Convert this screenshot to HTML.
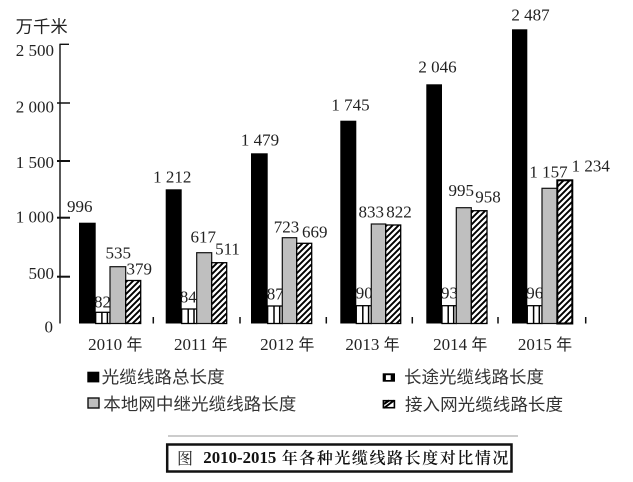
<!DOCTYPE html>
<html>
<head>
<meta charset="utf-8">
<style>
  html, body { margin: 0; padding: 0; background: #fff; }
  svg { display: block; }
  .num { font-family: "Liberation Serif", "Noto Serif CJK SC", serif; font-size: 17px; fill: #222; }
  .cjk { font-family: "Liberation Sans", "Noto Sans CJK SC", sans-serif; font-size: 17px; fill: #333; }
</style>
</head>
<body>
<svg width="633" height="482" viewBox="0 0 633 482" xmlns="http://www.w3.org/2000/svg">
  <defs>
    <pattern id="hatch" patternUnits="userSpaceOnUse" width="6" height="6">
      <rect x="0" y="0" width="6" height="6" fill="#fff"/>
      <path d="M-1,1 l2,-2 M0,6 l6,-6 M5,7 l2,-2" stroke="#000" stroke-width="1.9"/>
    </pattern>
  </defs>

  <!-- Axis title -->
  <text class="cjk" x="15.7" y="32.5" textLength="52" lengthAdjust="spacingAndGlyphs" style="fill:#222">万千米</text>

  <!-- Y axis -->
  <line x1="60" y1="44" x2="60" y2="323.5" stroke="#111" stroke-width="1.4"/>
  <line x1="59.5" y1="44.3" x2="69" y2="44.3" stroke="#111" stroke-width="1.4"/>
  <line x1="57" y1="103" x2="70" y2="103" stroke="#111" stroke-width="1.5"/>
  <line x1="57" y1="161" x2="70" y2="161" stroke="#111" stroke-width="2"/>
  <line x1="57" y1="217.7" x2="70" y2="217.7" stroke="#111" stroke-width="2"/>
  <line x1="57" y1="276.7" x2="70" y2="276.7" stroke="#111" stroke-width="2"/>

  <text class="num" x="54" y="56" text-anchor="end">2 500</text>
  <text class="num" x="54" y="112.5" text-anchor="end">2 000</text>
  <text class="num" x="54" y="168" text-anchor="end">1 500</text>
  <text class="num" x="54" y="222.5" text-anchor="end">1 000</text>
  <text class="num" x="54" y="279" text-anchor="end">500</text>
  <text class="num" x="53" y="332.5" text-anchor="end">0</text>

  <!-- baseline separator ticks -->
  <g stroke="#111" stroke-width="1.5">
    <line x1="153.3" y1="317" x2="153.3" y2="323.5"/>
    <line x1="240" y1="317" x2="240" y2="323.5"/>
    <line x1="326.3" y1="317" x2="326.3" y2="323.5"/>
    <line x1="412.3" y1="317" x2="412.3" y2="323.5"/>
    <line x1="498" y1="317" x2="498" y2="323.5"/>
    <line x1="585.7" y1="317" x2="585.7" y2="323.5"/>
  </g>

  <!-- small value labels drawn before bars (partially hidden) -->
  <text class="num" x="102.5" y="307.7" text-anchor="middle">82</text>
  <text class="num" x="188.3" y="302.7" text-anchor="middle">84</text>
  <text class="num" x="275.2" y="299.3" text-anchor="middle">87</text>
  <text class="num" x="364.3" y="298.7" text-anchor="middle">90</text>
  <text class="num" x="449.5" y="298.7" text-anchor="middle">93</text>
  <text class="num" x="534.7" y="298.7" text-anchor="middle">96</text>

  <!-- Bars: 2010 -->
  <rect x="79" y="222.7" width="16.7" height="100.8" fill="#000"/>
  <rect x="95.7" y="312.3" width="14.3" height="11.2" fill="#fff" stroke="#000" stroke-width="1.3"/>
  <line x1="101.9" y1="312.3" x2="101.9" y2="323.5" stroke="#000" stroke-width="1.5"/>
  <line x1="107.4" y1="312.3" x2="107.4" y2="323.5" stroke="#000" stroke-width="1.5"/>
  <rect x="110" y="266.7" width="15.7" height="56.8" fill="#bfbfbf" stroke="#111" stroke-width="1.2"/>
  <rect x="125.7" y="280.5" width="15" height="43" fill="url(#hatch)" stroke="#000" stroke-width="1.3"/>

  <!-- 2011 -->
  <rect x="165.7" y="189.3" width="16" height="134.2" fill="#000"/>
  <rect x="181.7" y="309" width="15" height="14.5" fill="#fff" stroke="#000" stroke-width="1.3"/>
  <line x1="188.2" y1="309" x2="188.2" y2="323.5" stroke="#000" stroke-width="1.5"/>
  <line x1="194" y1="309" x2="194" y2="323.5" stroke="#000" stroke-width="1.5"/>
  <rect x="196.7" y="252.7" width="15" height="70.8" fill="#bfbfbf" stroke="#111" stroke-width="1.2"/>
  <rect x="211.7" y="262.7" width="15" height="60.8" fill="url(#hatch)" stroke="#000" stroke-width="1.3"/>

  <!-- 2012 -->
  <rect x="251" y="153.3" width="16.7" height="170.2" fill="#000"/>
  <rect x="267.7" y="306" width="14.6" height="17.5" fill="#fff" stroke="#000" stroke-width="1.3"/>
  <line x1="274" y1="306" x2="274" y2="323.5" stroke="#000" stroke-width="1.5"/>
  <line x1="279.7" y1="306" x2="279.7" y2="323.5" stroke="#000" stroke-width="1.5"/>
  <rect x="282.3" y="237.7" width="14.4" height="85.8" fill="#bfbfbf" stroke="#111" stroke-width="1.2"/>
  <rect x="296.7" y="243.3" width="15" height="80.2" fill="url(#hatch)" stroke="#000" stroke-width="1.3"/>

  <!-- 2013 -->
  <rect x="340.3" y="120.7" width="16" height="202.8" fill="#000"/>
  <rect x="356.3" y="305.7" width="15" height="17.8" fill="#fff" stroke="#000" stroke-width="1.3"/>
  <line x1="362.8" y1="305.7" x2="362.8" y2="323.5" stroke="#000" stroke-width="1.5"/>
  <line x1="368.6" y1="305.7" x2="368.6" y2="323.5" stroke="#000" stroke-width="1.5"/>
  <rect x="371.3" y="224" width="14.4" height="99.5" fill="#bfbfbf" stroke="#111" stroke-width="1.2"/>
  <rect x="385.7" y="225" width="15" height="98.5" fill="url(#hatch)" stroke="#000" stroke-width="1.3"/>

  <!-- 2014 -->
  <rect x="426.3" y="84.3" width="15.7" height="239.2" fill="#000"/>
  <rect x="442" y="305.7" width="14.3" height="17.8" fill="#fff" stroke="#000" stroke-width="1.3"/>
  <line x1="448.2" y1="305.7" x2="448.2" y2="323.5" stroke="#000" stroke-width="1.5"/>
  <line x1="453.7" y1="305.7" x2="453.7" y2="323.5" stroke="#000" stroke-width="1.5"/>
  <rect x="456.3" y="207.7" width="15" height="115.8" fill="#bfbfbf" stroke="#111" stroke-width="1.2"/>
  <rect x="471.3" y="210.7" width="15.7" height="112.8" fill="url(#hatch)" stroke="#000" stroke-width="1.3"/>

  <!-- 2015 -->
  <rect x="512" y="29.3" width="15.3" height="294.2" fill="#000"/>
  <rect x="527.3" y="305.7" width="14.7" height="17.8" fill="#fff" stroke="#000" stroke-width="1.3"/>
  <line x1="533.6" y1="305.7" x2="533.6" y2="323.5" stroke="#000" stroke-width="1.5"/>
  <line x1="539.3" y1="305.7" x2="539.3" y2="323.5" stroke="#000" stroke-width="1.5"/>
  <rect x="542" y="188.3" width="15.3" height="135.2" fill="#bfbfbf" stroke="#111" stroke-width="1.2"/>
  <rect x="557.3" y="180.3" width="15" height="143.2" fill="url(#hatch)" stroke="#000" stroke-width="2"/>

  <!-- Value labels -->
  <text class="num" x="79.8" y="212" text-anchor="middle">996</text>
  <text class="num" x="118.3" y="258.7" text-anchor="middle">535</text>
  <text class="num" x="139.3" y="274.3" text-anchor="middle">379</text>
  <text class="num" x="172.2" y="182.7" text-anchor="middle">1 212</text>
  <text class="num" x="203.3" y="242.7" text-anchor="middle">617</text>
  <text class="num" x="227.5" y="254.3" text-anchor="middle">511</text>
  <text class="num" x="260" y="145.3" text-anchor="middle">1 479</text>
  <text class="num" x="286.5" y="232.7" text-anchor="middle">723</text>
  <text class="num" x="314.8" y="237.7" text-anchor="middle">669</text>
  <text class="num" x="350.5" y="110.3" text-anchor="middle">1 745</text>
  <text class="num" x="371.3" y="217.7" text-anchor="middle">833</text>
  <text class="num" x="399" y="217.7" text-anchor="middle">822</text>
  <text class="num" x="437.5" y="72.7" text-anchor="middle">2 046</text>
  <text class="num" x="461.3" y="196" text-anchor="middle">995</text>
  <text class="num" x="488" y="202.7" text-anchor="middle">958</text>
  <text class="num" x="530.5" y="20.3" text-anchor="middle">2 487</text>
  <text class="num" x="548.5" y="177.7" text-anchor="middle">1 157</text>
  <text class="num" x="590.7" y="171.7" text-anchor="middle">1  234</text>

  <!-- X labels -->
  <g class="num" text-anchor="middle">
    <text x="115.3" y="350">2010 <tspan style="font-family:'Noto Sans CJK SC',sans-serif;font-size:16px">年</tspan></text>
    <text x="200.8" y="350">2011 <tspan style="font-family:'Noto Sans CJK SC',sans-serif;font-size:16px">年</tspan></text>
    <text x="287.2" y="350">2012 <tspan style="font-family:'Noto Sans CJK SC',sans-serif;font-size:16px">年</tspan></text>
    <text x="372.5" y="350">2013 <tspan style="font-family:'Noto Sans CJK SC',sans-serif;font-size:16px">年</tspan></text>
    <text x="460.2" y="350">2014 <tspan style="font-family:'Noto Sans CJK SC',sans-serif;font-size:16px">年</tspan></text>
    <text x="545" y="350">2015 <tspan style="font-family:'Noto Sans CJK SC',sans-serif;font-size:16px">年</tspan></text>
  </g>

  <!-- Legend -->
  <rect x="87.3" y="371.7" width="12" height="10.7" fill="#000"/>
  <text class="cjk" x="101.7" y="383.2" textLength="123" lengthAdjust="spacingAndGlyphs">光缆线路总长度</text>

  <rect x="88" y="398" width="11" height="10" fill="#bfbfbf" stroke="#111" stroke-width="1.4"/>
  <text class="cjk" x="103.3" y="409.8" textLength="193" lengthAdjust="spacingAndGlyphs">本地网中继光缆线路长度</text>

  <rect x="382.7" y="373.3" width="12.3" height="8.4" fill="#000"/>
  <rect x="385.9" y="375.2" width="4.8" height="4.8" fill="#fff"/>
  <text class="cjk" x="404" y="383.2" textLength="140" lengthAdjust="spacingAndGlyphs">长途光缆线路长度</text>

  <rect x="383.4" y="400.7" width="11" height="7" fill="#fff" stroke="#000" stroke-width="1.6"/>
  <path d="M384,408 L394,400.5 M384,404 L389,400.5" stroke="#000" stroke-width="2"/>
  <text class="cjk" x="405" y="410.5" textLength="158" lengthAdjust="spacingAndGlyphs">接入网光缆线路长度</text>

  <!-- Caption -->
  <line x1="168" y1="436" x2="518" y2="436" stroke="#999" stroke-width="1"/>
  <rect x="167.2" y="444.5" width="344.3" height="27" fill="#fff" stroke="#111" stroke-width="2.5"/>
  <text x="177" y="464" style="font-family:'Noto Serif CJK SC',serif;font-size:16px;fill:#222">图</text>
  <text x="203.3" y="463" style="font-family:'Liberation Serif',serif;font-size:17px;font-weight:bold;fill:#111" textLength="73" lengthAdjust="spacingAndGlyphs">2010-2015</text>
  <text x="281.7" y="463.5" style="font-family:'Noto Serif CJK SC',serif;font-size:16px;font-weight:600;fill:#111" textLength="226.7" lengthAdjust="spacing">年各种光缆线路长度对比情况</text>
</svg>
</body>
</html>
